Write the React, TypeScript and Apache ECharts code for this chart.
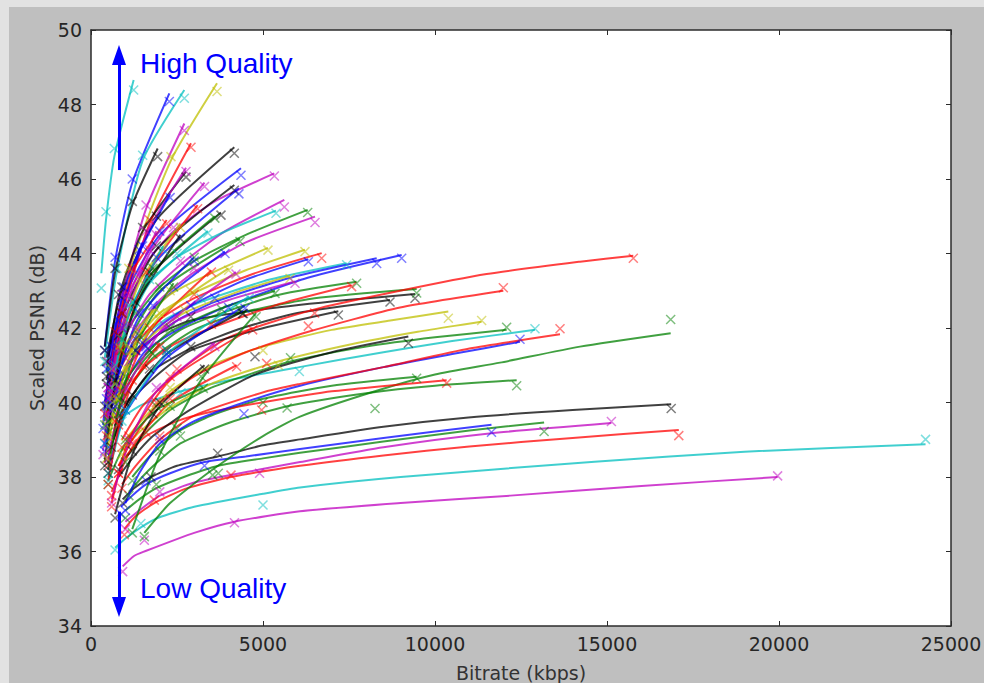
import React, { useEffect, useRef } from "react";
import * as echarts from "echarts";

const palette: Record<string, string> = {
  b: "#0000ff",
  g: "#008000",
  r: "#ff0000",
  c: "#00bfbf",
  m: "#bf00bf",
  y: "#bfbf00",
  k: "#000000",
};

const xAxisTitle = "Bitrate (kbps)";
const yAxisTitle = "Scaled PSNR (dB)";
const highLabel = "High Quality";
const lowLabel = "Low Quality";

const curveColors = [
  "m", "c", "r", "m", "k", "b", "g", "g", "g", "g",
  "r", "c", "b", "r", "g", "y", "y", "k", "k", "k",
  "g", "r", "r", "g", "r", "c", "b", "b", "r", "b",
  "y", "y", "m", "g", "k", "g", "m", "m", "c", "m",
  "b", "k", "k", "b", "k", "g", "b", "y", "k", "b",
  "r", "g", "c", "b", "c", "y", "m", "r", "k", "k",
  "m", "m", "b", "g", "r", "y", "c", "b", "r", "y",
  "m", "c", "r", "g", "k", "c", "m", "g", "r", "y",
  "b", "r", "m", "k",
];

// bitrates of the four measured points of each curve
const curveBitrates = [
  [920, 1550, 4170, 19960], [700, 1450, 5000, 24260], [970, 1840, 4070, 17087], [1000, 2000, 4900, 15128],
  [920, 1744, 3682, 16866], [870, 1600, 3300, 11642], [1000, 1900, 3700, 13172], [1550, 3537, 8256, 16851],
  [1100, 2600, 5700, 12374], [1200, 2500, 5000, 9467], [800, 1600, 4961, 10339], [900, 2616, 6056, 12907],
  [1000, 2000, 4448, 12471], [900, 2000, 5106, 13634], [1000, 2300, 5800, 12083], [900, 2200, 5446, 11356],
  [1000, 2300, 5000, 10387], [800, 1800, 4767, 9225], [600, 1300, 2900, 9419], [800, 1700, 4400, 8692],
  [800, 1800, 4331, 9467], [800, 1900, 6318, 11986], [900, 2500, 6500, 15765], [800, 1700, 3800, 7722],
  [700, 1500, 3500, 7577], [600, 1300, 3200, 7432], [700, 1500, 3600, 8305], [700, 1600, 4000, 9031],
  [600, 1300, 3000, 6706], [600, 1300, 2900, 6318], [700, 1400, 2900, 6220], [600, 1200, 2700, 5785],
  [500, 1100, 2500, 5930], [500, 1000, 2300, 5349], [600, 1200, 2900, 7190], [600, 1300, 3000, 6299],
  [600, 1300, 3000, 6512], [500, 1100, 2600, 5620], [500, 1100, 2500, 5378], [500, 1000, 2400, 5329],
  [450, 900, 2000, 4360], [450, 900, 1900, 4166], [450, 900, 1900, 4166], [450, 900, 1900, 4300],
  [400, 800, 1700, 3779], [400, 900, 2000, 4331], [400, 800, 1800, 3895], [500, 1000, 2300, 5145],
  [500, 1000, 2200, 4428], [500, 1000, 2200, 4477], [600, 1200, 2300, 4234], [500, 1000, 1900, 3265],
  [300, 436, 678, 1240], [400, 700, 1200, 2277], [400, 750, 1502, 2713], [600, 1100, 2325, 3663],
  [500, 900, 1600, 2713], [500, 900, 1700, 2907], [400, 700, 1200, 1938], [450, 800, 1500, 2762],
  [500, 900, 1600, 2762], [500, 900, 1700, 3300], [450, 800, 1400, 2300], [500, 900, 1800, 3600],
  [450, 850, 1600, 3100], [450, 800, 1400, 2600], [500, 900, 1700, 3400], [400, 750, 1400, 3000],
  [500, 900, 1700, 3500], [500, 1000, 2000, 4000], [500, 1000, 2100, 4215], [500, 1000, 2200, 4600],
  [600, 1100, 2300, 4700], [1200, 2000, 3200, 4800], [400, 700, 1300, 2600], [400, 700, 1200, 2100],
  [350, 650, 1100, 1900], [500, 850, 1400, 2400], [400, 700, 1200, 2200], [450, 750, 1150, 1800],
  [350, 600, 950, 1500], [500, 800, 1200, 2000], [600, 1100, 1900, 3600], [700, 1200, 2000, 3300],
];

// fitted PSNR at those bitrates (the drawn curve passes through them)
const curveFit = [
  [35.6, 36.0, 36.8, 38.0], [36.1, 36.65, 37.55, 38.88], [36.6, 37.3, 38.0, 39.26], [36.8, 37.5, 38.2, 39.45],
  [37.4, 38.0, 38.55, 39.95], [37.2, 37.8, 38.4, 39.4], [37.1, 37.7, 38.3, 39.46], [36.5, 38.2, 40.3, 41.86],
  [37.6, 38.9, 39.9, 40.6], [38.0, 39.2, 40.1, 40.69], [38.3, 39.1, 40.0, 40.6], [39.6, 40.3, 40.95, 41.95],
  [37.3, 38.9, 40.0, 41.63], [37.8, 39.0, 40.3, 41.83], [38.5, 39.8, 41.1, 41.95], [38.7, 39.8, 41.1, 42.17],
  [39.0, 40.3, 41.5, 42.44], [38.0, 39.1, 40.75, 41.77], [40.0, 41.3, 42.2, 42.91], [39.6, 40.8, 42.0, 42.75],
  [39.8, 41.2, 42.4, 43.05], [38.3, 39.9, 41.9, 43.0], [39.0, 40.8, 42.5, 43.94], [40.0, 41.3, 42.4, 43.24],
  [39.6, 40.9, 42.0, 43.15], [40.5, 41.6, 42.7, 43.74], [40.3, 41.5, 42.7, 43.87], [40.0, 41.4, 42.6, 43.96],
  [40.3, 41.6, 42.8, 44.01], [39.9, 41.3, 42.6, 43.85], [40.6, 41.8, 42.9, 44.1], [40.2, 41.3, 42.4, 43.4],
  [39.8, 41.0, 42.2, 43.25], [39.3, 40.6, 41.9, 43.0], [38.9, 40.1, 41.4, 42.45], [40.8, 42.3, 43.8, 45.17],
  [40.4, 41.9, 43.5, 44.99], [40.5, 42.0, 43.7, 45.44], [41.0, 42.5, 43.9, 45.15], [41.2, 42.8, 44.6, 46.15],
  [41.0, 42.7, 44.5, 46.29], [41.2, 43.0, 44.9, 46.85], [40.6, 42.3, 44.1, 45.84], [40.2, 41.9, 43.8, 45.75],
  [40.0, 41.7, 43.4, 45.1], [39.5, 41.3, 43.0, 44.4], [39.0, 40.8, 42.5, 44.05], [40.0, 41.5, 42.9, 44.15],
  [38.5, 39.9, 41.3, 42.45], [38.2, 39.7, 41.2, 42.6], [37.6, 38.8, 40.0, 41.0], [37.9, 38.9, 39.8, 40.4],
  [43.47, 44.9, 46.6, 48.66], [41.5, 43.8, 45.9, 48.3], [41.2, 43.5, 46.5, 48.39], [41.0, 43.5, 46.5, 48.57],
  [40.5, 42.8, 45.2, 47.49], [40.0, 42.3, 44.8, 46.96], [41.5, 43.5, 45.3, 46.82], [40.8, 42.8, 44.6, 46.2],
  [40.2, 42.4, 44.5, 46.3], [39.8, 41.9, 44.0, 45.9], [40.0, 42.1, 44.0, 45.6], [39.6, 41.6, 43.5, 45.0],
  [39.2, 41.3, 43.4, 45.3], [39.5, 41.4, 43.2, 44.8], [40.0, 41.6, 43.2, 44.6], [38.8, 40.6, 42.3, 43.9],
  [38.4, 40.2, 41.9, 43.55], [39.2, 40.8, 42.3, 43.6], [38.6, 40.3, 42.0, 43.5], [38.0, 39.7, 41.3, 42.85],
  [37.3, 39.0, 40.6, 42.0], [36.6, 38.6, 40.6, 42.4], [38.4, 40.5, 42.6, 44.5], [39.0, 40.9, 42.6, 44.2],
  [38.7, 40.8, 42.8, 44.6], [38.2, 40.0, 41.7, 43.2], [39.8, 41.8, 43.5, 44.9], [38.6, 40.0, 41.3, 42.5],
  [39.4, 41.4, 43.0, 44.3], [37.9, 39.3, 40.5, 41.6], [37.4, 38.9, 40.3, 41.6], [37.0, 38.6, 39.9, 41.0],
];

// measured PSNR (x markers) at the same bitrates
const curveObserved = [
  [35.46, 36.3, 36.77, 38.03], [36.04, 36.75, 37.25, 39.01], [36.45, 37.38, 38.05, 39.11], [36.6, 37.6, 38.1, 39.49],
  [37.3, 38.0, 38.64, 39.84], [37.0, 37.9, 38.3, 39.2], [36.9, 37.8, 38.1, 39.22], [36.4, 38.05, 39.84, 42.23],
  [37.5, 39.1, 39.85, 40.45], [37.9, 39.3, 40.0, 40.65], [38.1, 39.2, 39.8, 40.52], [39.5, 40.26, 40.83, 41.98],
  [37.1, 39.0, 39.7, 41.7], [37.7, 39.1, 41.05, 41.98], [38.4, 39.9, 41.2, 42.02], [38.6, 39.9, 41.0, 42.2],
  [38.9, 40.4, 41.4, 42.26], [38.2, 39.7, 41.23, 41.59], [39.9, 41.4, 42.3, 42.8], [39.5, 40.9, 42.39, 42.7],
  [39.7, 41.3, 42.5, 42.94], [38.1, 40.0, 42.05, 43.08], [38.8, 40.9, 42.4, 43.87], [39.9, 41.4, 42.5, 43.2],
  [39.5, 41.0, 42.1, 43.11], [40.4, 41.7, 42.8, 43.7], [40.2, 41.6, 42.8, 43.73], [39.9, 41.5, 42.55, 43.87],
  [40.2, 41.7, 42.9, 43.87], [39.8, 41.4, 42.6, 43.78], [40.5, 41.9, 43.0, 44.05], [40.1, 41.4, 42.5, 43.33],
  [39.7, 41.1, 42.3, 43.2], [39.2, 40.7, 42.0, 42.93], [38.8, 40.2, 41.5, 42.35], [40.7, 42.4, 43.9, 45.1],
  [40.3, 42.0, 43.6, 44.83], [40.4, 42.1, 43.8, 45.25], [40.9, 42.6, 44.0, 45.08], [41.1, 42.9, 44.7, 46.08],
  [40.9, 42.8, 44.6, 46.1], [41.1, 43.1, 45.0, 46.69], [40.5, 42.4, 44.2, 45.7], [40.1, 42.0, 43.9, 45.6],
  [39.9, 41.8, 43.5, 45.03], [39.4, 41.4, 43.1, 44.32], [38.9, 40.9, 42.6, 44.0], [39.9, 41.6, 43.0, 44.09],
  [38.4, 40.0, 41.4, 42.39], [38.1, 39.8, 41.3, 42.53], [37.5, 38.9, 40.1, 40.96], [37.8, 39.0, 39.9, 40.38],
  [43.07, 45.12, 46.82, 48.39], [41.4, 43.9, 46.0, 48.08], [41.1, 43.6, 46.64, 48.17], [40.9, 43.6, 46.6, 48.35],
  [40.4, 42.9, 45.3, 47.3], [39.9, 42.4, 44.9, 46.85], [41.4, 43.6, 45.4, 46.6], [40.7, 42.9, 44.7, 46.05],
  [40.1, 42.5, 44.6, 46.2], [39.7, 42.0, 44.1, 45.8], [39.9, 42.2, 44.1, 45.5], [39.5, 41.7, 43.6, 44.95],
  [39.1, 41.4, 43.5, 45.2], [39.4, 41.5, 43.3, 44.7], [39.9, 41.7, 43.3, 44.55], [38.7, 40.7, 42.4, 43.8],
  [38.3, 40.3, 42.0, 43.5], [39.1, 40.9, 42.4, 43.55], [38.5, 40.4, 42.1, 43.45], [37.9, 39.8, 41.4, 42.8],
  [37.2, 39.1, 40.7, 41.95], [36.5, 38.7, 40.7, 42.3], [38.3, 40.6, 42.7, 44.4], [38.9, 41.0, 42.7, 44.1],
  [38.6, 40.9, 42.9, 44.5], [38.1, 40.1, 41.8, 43.1], [39.7, 41.9, 43.6, 44.8], [38.5, 40.1, 41.4, 42.4],
  [39.3, 41.5, 43.1, 44.2], [37.8, 39.4, 40.6, 41.5], [37.3, 39.0, 40.4, 41.5], [36.9, 38.7, 40.0, 40.9],
];

// extra points: [curve index, bitrate, psnr]
const curveMidPoints: [number, number, number][] = [
  [0, 1250, 35.88], [0, 3000, 36.5], [0, 6076, 37.08], [0, 9000, 37.3], [0, 12192, 37.5], [0, 16000, 37.76],
  [1, 1000, 36.35], [1, 1938, 36.9], [1, 3000, 37.2], [1, 6076, 37.72], [1, 9000, 38.0], [1, 14640, 38.41], [1, 19000, 38.68],
  [2, 1300, 36.95], [2, 2800, 37.7], [2, 6076, 38.3], [2, 8500, 38.58], [2, 11000, 38.82], [2, 14000, 39.05],
  [3, 1400, 37.1], [3, 3000, 37.85], [3, 6076, 38.4], [3, 8500, 38.8], [3, 11581, 39.17],
  [4, 1250, 37.7], [4, 2500, 38.3], [4, 5000, 38.85], [4, 6076, 39.01], [4, 8500, 39.35], [4, 10971, 39.6], [4, 14000, 39.8],
  [5, 1200, 37.5], [5, 2300, 38.1], [5, 4500, 38.55], [5, 6076, 38.75], [5, 8500, 39.05],
  [6, 1400, 37.4], [6, 2700, 38.0], [6, 5000, 38.5], [6, 6076, 38.65], [6, 8500, 38.95], [6, 11000, 39.25],
  [7, 2300, 37.3], [7, 5000, 39.1], [7, 6076, 39.62], [7, 10000, 40.75], [7, 11890, 41.07], [7, 14215, 41.5],
  [8, 1700, 38.2], [8, 4000, 39.45], [8, 8000, 40.25], [8, 10000, 40.45],
  [9, 1700, 38.55], [9, 3500, 39.65], [9, 7000, 40.45],
  [10, 1100, 38.65], [10, 2500, 39.5], [10, 3500, 39.75], [10, 7000, 40.3],
  [11, 1500, 39.95], [11, 4000, 40.6], [11, 8500, 41.35], [11, 10500, 41.65],
  [12, 1400, 38.1], [12, 3000, 39.5], [12, 6076, 40.45], [12, 8500, 40.95], [12, 10500, 41.3],
  [13, 1300, 38.3], [13, 3000, 39.65], [13, 6076, 40.5], [13, 8500, 40.95], [13, 11000, 41.45],
  [14, 1500, 39.1], [14, 3500, 40.4], [14, 8000, 41.5], [14, 10000, 41.75],
  [15, 1400, 39.2], [15, 3500, 40.5], [15, 7500, 41.55], [15, 9500, 41.9],
  [16, 1500, 39.55], [16, 3500, 41.0], [16, 7000, 41.95], [16, 8700, 42.2],
  [17, 1200, 38.5], [17, 2878, 39.8], [17, 7000, 41.35],
  [18, 900, 40.7], [18, 2000, 41.85], [18, 5000, 42.5], [18, 7432, 42.75],
  [19, 1200, 40.2], [19, 3000, 41.5], [19, 6000, 42.4],
  [20, 1200, 40.5], [20, 3000, 41.95], [20, 6500, 42.8],
  [21, 1200, 39.0], [21, 3000, 40.7], [21, 4500, 41.35], [21, 8983, 42.55],
  [22, 1500, 39.9], [22, 4000, 41.75], [22, 8983, 43.0], [22, 11500, 43.45], [22, 14215, 43.78],
  [23, 1200, 40.7], [23, 2600, 41.95], [23, 5500, 42.9],
  [24, 1000, 40.2], [24, 2400, 41.55], [24, 5500, 42.65],
  [25, 900, 41.1], [25, 2200, 42.25], [25, 5200, 43.3],
  [26, 1000, 40.9], [26, 2500, 42.2], [26, 5800, 43.35],
  [27, 1100, 40.7], [27, 2700, 42.05], [27, 6300, 43.35],
  [28, 900, 41.0], [28, 2100, 42.3], [28, 4700, 43.45],
  [29, 900, 40.6], [29, 2000, 42.05], [29, 4500, 43.3],
  [30, 1000, 41.25], [30, 2000, 42.4], [30, 4500, 43.55],
  [31, 900, 40.8], [31, 1900, 41.9], [31, 4200, 42.95],
  [32, 800, 40.45], [32, 1700, 41.65], [32, 4000, 42.75],
  [33, 750, 40.0], [33, 1600, 41.3], [33, 3700, 42.5],
  [34, 900, 39.55], [34, 2000, 40.8], [34, 4800, 41.95],
  [35, 900, 41.6], [35, 2000, 43.1], [35, 4500, 44.5],
  [36, 900, 41.2], [36, 2000, 42.75], [36, 4500, 44.3],
  [37, 800, 41.3], [37, 1700, 42.9], [37, 3900, 44.6],
  [38, 800, 41.8], [38, 1700, 43.25], [38, 3800, 44.55],
  [39, 750, 42.1], [39, 1600, 43.75], [39, 3600, 45.4],
];

// annotation arrows: [bitrate, psnr from, psnr to]
const upArrow = [814, 46.24, 49.33];
const downArrow = [814, 37.07, 34.51];

export default function App() {
  const ref = useRef<HTMLDivElement>(null);

  useEffect(() => {
    if (!ref.current) return;
    const chart = echarts.init(ref.current, undefined, { renderer: "svg" });

    const series: any[] = [];
    curveBitrates.forEach((b, i) => {
      const col = palette[curveColors[i]];
      const pts: number[][] = b.map((x, j) => [x, curveFit[i][j]]);
      curveMidPoints.forEach((p) => {
        if (p[0] === i) pts.push([p[1], p[2]]);
      });
      pts.sort((a, c) => a[0] - c[0]);
      series.push({
        type: "line",
        data: pts,
        showSymbol: false,
        smooth: 0.2,
        silent: true,
        lineStyle: { color: col, width: 2, opacity: 0.75 },
        itemStyle: { color: col },
        z: 2,
      });
      series.push({
        type: "scatter",
        data: b.map((x, j) => [x, curveObserved[i][j]]),
        symbol: "path://M0,0L10,10M10,0L0,10",
        symbolSize: 9,
        silent: true,
        itemStyle: { color: "rgba(0,0,0,0)", borderColor: col, borderWidth: 1.5, opacity: 0.5 },
        z: 3,
      });
    });

    series.push({
      type: "line",
      data: [],
      silent: true,
      z: 5,
      markLine: {
        silent: true,
        animation: false,
        symbol: ["none", "triangle"],
        symbolSize: [14, 20],
        label: { show: false },
        lineStyle: { color: "#0000ff", width: 3, type: "solid", opacity: 1 },
        emphasis: { disabled: true },
        data: [
          [{ coord: [upArrow[0], upArrow[1]] }, { coord: [upArrow[0], upArrow[2]] }],
          [{ coord: [downArrow[0], downArrow[1]] }, { coord: [downArrow[0], downArrow[2]] }],
        ],
      },
    });

    const tickColor = "#2b2b2b";
    const labelStyle = { color: "#262626", fontSize: 19, fontFamily: "DejaVu Sans" };

    chart.setOption({
      animation: false,
      backgroundColor: "#bfbfbf",
      grid: {
        left: 82,
        top: 23,
        right: 33,
        bottom: 57,
        show: true,
        backgroundColor: "#ffffff",
        borderWidth: 0,
        containLabel: false,
        outerBoundsMode: "none",
      },
      xAxis: [
        {
          type: "value",
          min: 0,
          max: 25000,
          interval: 5000,
          position: "bottom",
          name: xAxisTitle,
          nameLocation: "middle",
          nameGap: 37,
          nameTextStyle: { color: "#333333", fontSize: 19, fontFamily: "DejaVu Sans" },
          axisLine: { show: true, onZero: false, lineStyle: { color: tickColor, width: 1.5 } },
          axisTick: { show: true, inside: true, length: 5, lineStyle: { color: tickColor } },
          axisLabel: { ...labelStyle, margin: 8, formatter: (v: number) => String(v) },
          splitLine: { show: false },
        },
        {
          type: "value",
          min: 0,
          max: 25000,
          interval: 5000,
          position: "top",
          axisLine: { show: true, onZero: false, lineStyle: { color: tickColor, width: 1.5 } },
          axisTick: { show: true, inside: true, length: 5, lineStyle: { color: tickColor } },
          axisLabel: { show: false },
          splitLine: { show: false },
        },
      ],
      yAxis: [
        {
          type: "value",
          min: 34,
          max: 50,
          interval: 2,
          position: "left",
          name: yAxisTitle,
          nameLocation: "middle",
          nameGap: 43,
          nameTextStyle: { color: "#333333", fontSize: 19, fontFamily: "DejaVu Sans" },
          axisLine: { show: true, onZero: false, lineStyle: { color: tickColor, width: 1.5 } },
          axisTick: { show: true, inside: true, length: 5, lineStyle: { color: tickColor } },
          axisLabel: { ...labelStyle, margin: 9 },
          splitLine: { show: false },
        },
        {
          type: "value",
          min: 34,
          max: 50,
          interval: 2,
          position: "right",
          axisLine: { show: true, onZero: false, lineStyle: { color: tickColor, width: 1.5 } },
          axisTick: { show: true, inside: true, length: 5, lineStyle: { color: tickColor } },
          axisLabel: { show: false },
          splitLine: { show: false },
        },
      ],
      graphic: [
        {
          type: "text",
          left: 131,
          top: 42,
          silent: true,
          style: {
            text: highLabel,
            fill: "#0000ff",
            fontSize: 28,
            fontFamily: "Liberation Sans",
          },
        },
        {
          type: "text",
          left: 131,
          top: 567,
          silent: true,
          style: {
            text: lowLabel,
            fill: "#0000ff",
            fontSize: 28,
            fontFamily: "Liberation Sans",
          },
        },
      ],
      series,
    });

    return () => chart.dispose();
  }, []);

  return (
    <div
      style={{
        position: "fixed",
        left: 0,
        top: 0,
        width: 984,
        height: 683,
        background: "#e2e2e2",
        overflow: "hidden",
      }}
    >
      <div
        ref={ref}
        style={{ position: "absolute", left: 9, top: 7, width: 975, height: 676 }}
      />
    </div>
  );
}
